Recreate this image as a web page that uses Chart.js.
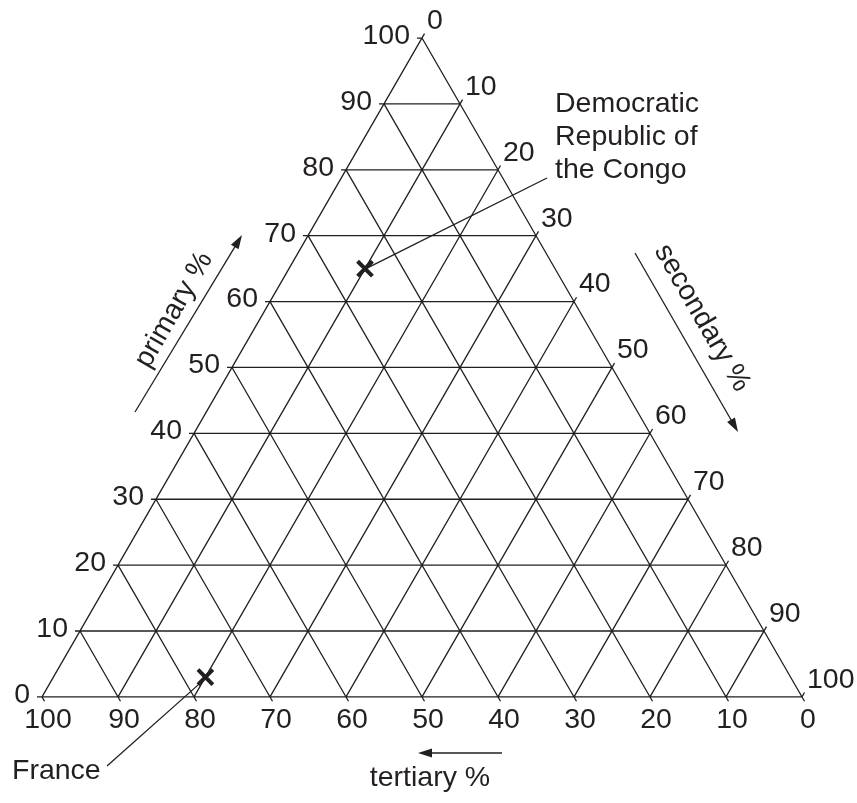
<!DOCTYPE html>
<html>
<head>
<meta charset="utf-8">
<script src="https://cdn.jsdelivr.net/npm/chart.js@4"></script>
<style>
  body { margin: 0; background: #fff; }
  #wrap { width: 857px; height: 803px; }
</style>
</head>
<body>
<div id="wrap"><canvas id="ternary"></canvas></div>
<script>
// tick values on the three axes
const ticks = [0, 10, 20, 30, 40, 50, 60, 70, 80, 90, 100];
const tickLabelsPrimary = ["0", "10", "20", "30", "40", "50", "60", "70", "80", "90", "100"];
const tickLabelsSecondary = ["0", "10", "20", "30", "40", "50", "60", "70", "80", "90", "100"];
const tickLabelsTertiary = ["0", "10", "20", "30", "40", "50", "60", "70", "80", "90", "100"];

// countries (shares of employment, %)
const countries = ["Democratic Republic of the Congo", "France"];
const primary = [65, 3];
const secondary = [10, 20];
const tertiary = [25, 77];

const H = Math.sqrt(3) / 2;
const INK = "#231f20";
const FONT = '28.5px "Liberation Sans", Arial, sans-serif';
const TICK = 0.66; // tick length in data units

// ternary -> cartesian (data units)
function toXY(p, s) {
  return { x: s + p / 2, y: p * H };
}

// grid lines + ticks, one path with null gaps
const gridPts = [];
ticks.forEach((v) => {
  // primary = v : horizontal, tick on the left
  const a = toXY(v, 0);
  gridPts.push({ x: a.x - TICK, y: a.y }, toXY(v, 100 - v), { x: null, y: null });
  // secondary = v : parallel to left side, tick up-right
  const b = toXY(100 - v, v);
  gridPts.push(toXY(0, v), { x: b.x + TICK * 0.5, y: b.y + TICK * H }, { x: null, y: null });
  // tertiary = v : parallel to right side, tick down-right
  const c = toXY(0, 100 - v);
  gridPts.push(toXY(100 - v, 0), { x: c.x + TICK * 0.5, y: c.y - TICK * H }, { x: null, y: null });
});

const markers = countries.map((c, i) => toXY(primary[i], secondary[i]));

function arrow(ctx, x1, y1, x2, y2) {
  const ang = Math.atan2(y2 - y1, x2 - x1);
  const hl = 14, hw = 4.5;
  ctx.beginPath();
  ctx.moveTo(x1, y1);
  ctx.lineTo(x2 - Math.cos(ang) * hl * 0.8, y2 - Math.sin(ang) * hl * 0.8);
  ctx.stroke();
  ctx.beginPath();
  ctx.moveTo(x2, y2);
  ctx.lineTo(x2 - Math.cos(ang) * hl - Math.sin(ang) * hw, y2 - Math.sin(ang) * hl + Math.cos(ang) * hw);
  ctx.lineTo(x2 - Math.cos(ang) * hl + Math.sin(ang) * hw, y2 - Math.sin(ang) * hl - Math.cos(ang) * hw);
  ctx.closePath();
  ctx.fill();
}

function rotText(ctx, txt, x, y, deg) {
  ctx.save();
  ctx.translate(x, y);
  ctx.rotate(deg * Math.PI / 180);
  ctx.textAlign = "center";
  ctx.textBaseline = "middle";
  ctx.fillText(txt, 0, 0);
  ctx.restore();
}

const ternaryText = {
  id: "ternaryText",
  afterDatasetsDraw(chart) {
    const ctx = chart.ctx;
    const xs = chart.scales.x, ys = chart.scales.y;
    const px = (pt) => [xs.getPixelForValue(pt.x), ys.getPixelForValue(pt.y)];
    ctx.save();
    ctx.fillStyle = INK;
    ctx.strokeStyle = INK;
    ctx.lineWidth = 1.3;
    ctx.font = FONT;

    ticks.forEach((v, i) => {
      // left: primary
      let [x, y] = px(toXY(v, 0));
      ctx.textAlign = "right";
      ctx.textBaseline = "middle";
      ctx.fillText(tickLabelsPrimary[i], x - 12, y - 2);
      // right: secondary
      [x, y] = px(toXY(100 - v, v));
      ctx.textAlign = "left";
      ctx.fillText(tickLabelsSecondary[i], x + 5, y - 17);
      // bottom: tertiary
      [x, y] = px(toXY(0, 100 - v));
      ctx.textAlign = "center";
      ctx.fillText(tickLabelsTertiary[i], x + 6, y + 23);
    });

    // axis titles and arrows
    rotText(ctx, "primary %", 174, 310, -60);
    arrow(ctx, 135, 412, 242, 235);
    rotText(ctx, "secondary %", 702, 318, 60);
    arrow(ctx, 635, 253, 738, 432);
    ctx.textAlign = "center";
    ctx.textBaseline = "middle";
    ctx.fillText("tertiary %", 430, 778);
    arrow(ctx, 502, 753, 418, 753);

    // leader lines and country names
    const drc = px(markers[0]);
    ctx.beginPath();
    ctx.moveTo(drc[0] + 3, drc[1] - 1);
    ctx.lineTo(547, 178);
    ctx.stroke();
    ctx.textAlign = "left";
    ["Democratic", "Republic of", "the Congo"].forEach((t, i) => ctx.fillText(t, 555, 104 + i * 33));

    const fr = px(markers[1]);
    ctx.beginPath();
    ctx.moveTo(fr[0] - 3, fr[1] + 4);
    ctx.lineTo(107, 766);
    ctx.stroke();
    ctx.fillText("France", 12, 771);
    ctx.restore();
  },
};

new Chart(document.getElementById("ternary"), {
  type: "scatter",
  data: {
    datasets: [
      {
        type: "line",
        label: "grid",
        data: gridPts,
        borderColor: INK,
        borderWidth: 1.3,
        pointRadius: 0,
        spanGaps: false,
        fill: false,
      },
      {
        label: "countries",
        data: markers,
        pointStyle: "crossRot",
        pointRadius: 10.5,
        borderColor: INK,
        borderWidth: 4,
      },
    ],
  },
  options: {
    responsive: true,
    maintainAspectRatio: false,
    animation: false,
    layout: { padding: 0, autoPadding: false },
    plugins: { legend: { display: false }, tooltip: { enabled: false } },
    scales: {
      x: { type: "linear", display: false, min: -42 / 7.6, max: (857 - 42) / 7.6 },
      y: { type: "linear", display: false, min: -(803 - 697) / 7.6, max: 100 * H + 38 / 7.6 },
    },
  },
  plugins: [ternaryText],
});
</script>
</body>
</html>
